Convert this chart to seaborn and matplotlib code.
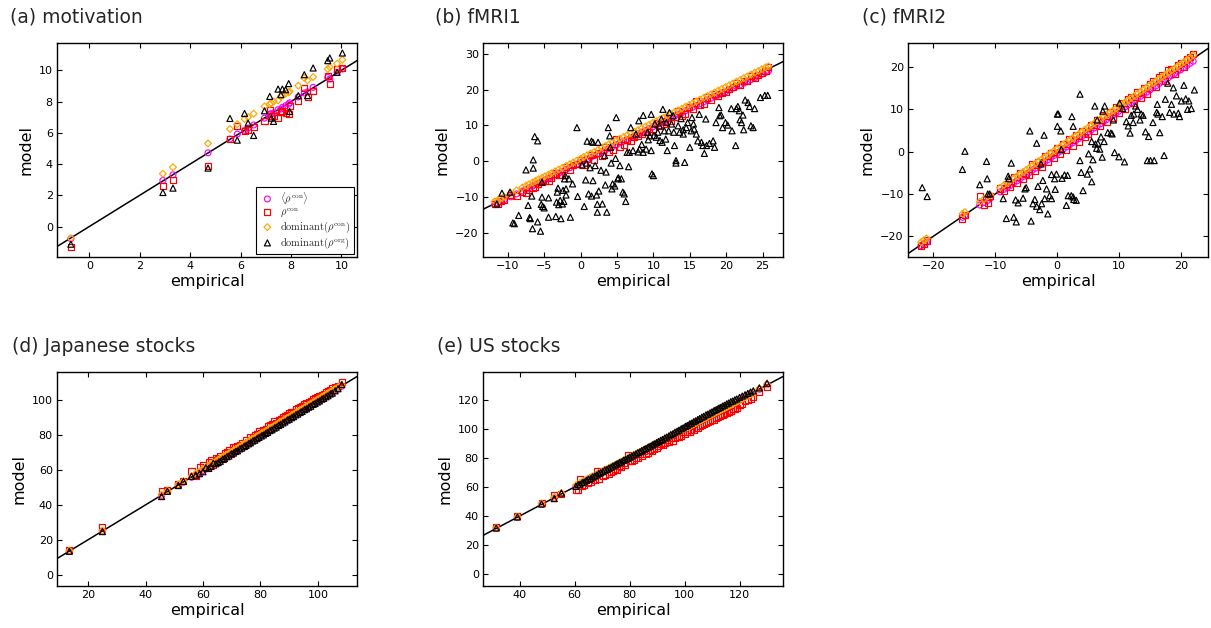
import matplotlib
matplotlib.use("Agg")
import matplotlib.pyplot as plt
import seaborn as sns

# ---------------- data ----------------
# (a) motivation
a_x = [-0.73, 2.92, 3.32, 4.71, 5.58, 5.87, 6.16, 6.30, 6.52, 6.95, 7.16, 7.22, 7.31, 7.49,
       7.60, 7.66, 7.79, 7.91, 7.95, 8.29, 8.53, 8.66, 8.88, 9.46, 9.54, 9.83, 10.04]
a_mean = [-0.78, 2.95, 3.31, 4.72, 5.60, 5.92, 6.15, 6.30, 6.50, 6.94, 7.20, 7.22, 7.26, 7.48,
          7.52, 7.63, 7.74, 7.84, 7.92, 8.30, 8.55, 8.62, 8.91, 9.55, 9.44, 9.87, 10.09]
a_con = [-1.32, 2.59, 2.99, 3.85, 5.62, 6.41, 6.11, 6.20, 6.35, 6.73, 7.48, 7.10, 7.09, 6.94,
         7.33, 7.40, 7.26, 7.22, 7.69, 8.02, 8.87, 8.29, 8.70, 9.66, 9.15, 10.09, 10.15]
a_domcon = [-0.75, 3.38, 3.80, 5.32, 6.24, 6.56, 6.88, 7.01, 7.22, 7.69, 7.84, 7.90, 8.01, 8.08,
            8.33, 8.40, 8.50, 8.59, 8.65, 9.02, 9.51, 9.36, 9.57, 10.09, 10.21, 10.43, 10.68]
a_domorg = [-1.13, 2.18, 2.46, 3.74, 6.92, 5.53, 7.24, 6.62, 5.83, 7.41, 8.33, 6.94, 6.73, 8.80,
            8.44, 8.80, 8.76, 9.15, 7.37, 8.38, 9.72, 8.38, 10.15, 10.62, 10.79, 9.87, 11.11]

# (b) fMRI1
b_x = [-11.8, -11.4, -11.0, -10.5, -9.6, -8.8, -8.0, -7.5,
       -7.1, -6.6, -6.2, -5.8, -5.3, -4.9, -4.4, -4.0,
       -3.5, -3.0, -2.5, -2.0, -1.5, -1.0, -0.5, 0.0,
       0.4, 0.9, 1.4, 1.9, 2.4, 2.9, 3.4, 3.9,
       4.4, 4.9, 5.4, 5.9, 6.4, 6.9, 7.4, 7.9,
       8.4, 8.9, 9.4, 9.9, 10.4, 10.9, 11.4, 11.9,
       12.4, 12.9, 13.4, 13.9, 14.4, 14.9, 15.4, 15.9,
       16.4, 16.9, 17.4, 17.9, 18.4, 18.9, 19.4, 19.9,
       20.4, 20.9, 21.4, 21.9, 22.4, 22.9, 23.4, 23.9,
       24.4, 24.9, 25.4, 25.8]
b_mean = [-12.1, -11.7, -11.3, -10.8, -9.9, -9.1, -8.3, -7.8,
          -7.4, -6.9, -6.5, -6.1, -5.6, -5.2, -4.7, -4.3,
          -3.8, -3.3, -2.8, -2.3, -1.8, -1.3, -0.8, -0.3,
          0.1, 0.6, 1.1, 1.6, 2.1, 2.6, 3.1, 3.6,
          4.1, 4.6, 5.1, 5.6, 6.1, 6.6, 7.1, 7.6,
          8.1, 8.6, 9.1, 9.6, 10.1, 10.6, 11.1, 11.6,
          12.1, 12.6, 13.1, 13.6, 14.1, 14.6, 15.1, 15.6,
          16.1, 16.6, 17.1, 17.6, 18.1, 18.5, 19.0, 19.4,
          19.9, 20.4, 20.9, 21.3, 21.8, 22.3, 22.8, 23.3,
          23.8, 24.3, 24.8, 25.2]
b_con = [-12.0, -11.9, -11.2, -10.9, -9.3, -9.6, -8.6, -8.8,
         -7.9, -7.5, -7.2, -6.3, -5.9, -5.6, -5.4, -4.6,
         -3.4, -3.9, -3.7, -1.5, -2.4, -1.0, -0.8, 0.4,
         -0.9, 0.6, 1.8, 0.4, 2.2, 1.4, 3.9, 2.6,
         3.1, 6.2, 4.0, 4.5, 6.0, 5.7, 6.9, 7.0,
         7.6, 8.1, 8.1, 9.0, 10.6, 9.9, 10.5, 11.2,
         11.2, 12.4, 13.9, 12.6, 13.2, 15.1, 14.5, 16.8,
         15.6, 16.1, 17.8, 17.0, 18.7, 18.3, 19.1, 19.4,
         20.1, 20.6, 21.9, 21.4, 22.3, 22.4, 23.9, 23.2,
         24.2, 24.7, 25.1, 26.2]
b_domcon = [-11.2, -10.9, -10.4, -9.9, -8.9, -8.1, -7.3, -6.8,
            -6.4, -5.9, -5.5, -5.0, -4.6, -4.2, -3.7, -3.3,
            -2.8, -2.3, -1.8, -1.3, -0.8, -0.3, 0.2, 0.7,
            1.2, 1.7, 2.2, 2.7, 3.2, 3.8, 4.3, 4.8,
            5.3, 5.8, 6.3, 6.8, 7.3, 7.8, 8.3, 8.7,
            9.2, 9.7, 10.2, 10.7, 11.2, 11.7, 12.2, 12.7,
            13.2, 13.7, 14.2, 14.7, 15.2, 15.7, 16.2, 16.7,
            17.2, 17.7, 18.2, 18.7, 19.2, 19.7, 20.2, 20.7,
            21.2, 21.7, 22.2, 22.7, 23.2, 23.7, 24.2, 24.7,
            25.2, 25.7, 26.2, 26.5]
b_org_x = [-11.5, -10.8, -9.7, -9.3, -9.1, -8.5, -7.5, -7.2, -7.0, -6.9,
           -6.7, -6.6, -6.5, -6.5, -6.3, -5.9, -5.9, -5.5, -5.4, -5.3,
           -5.2, -5.0, -5.3, -4.4, -4.4, -3.4, -3.3, -3.2, -3.1, -3.0,
           -2.8, -2.7, -2.5, -2.4, -2.3, -2.2, -2.1, -2.0, -2.0, -1.6,
           -1.4, -1.1, -0.4, -0.5, 0.5, 0.7, 0.9, 1.1, 1.5, 1.5,
           1.7, 1.7, 2.2, 2.3, 2.4, 2.3, 2.5, 3.0, 3.3, 3.4,
           3.6, 3.8, 4.0, 4.1, 4.3, 4.4, 4.7, 4.9, 5.1, 5.4,
           5.6, 5.8, 6.0, 6.2, 6.4, 6.6, 6.7, 6.9, 7.6, 8.0,
           8.1, 8.6, 8.6, 9.0, 9.2, 9.5, 9.7, 9.7, 9.8, 10.0,
           10.2, 10.4, 10.6, 10.8, 11.1, 11.2, 11.3, 11.5, 11.7, 11.8,
           11.9, 12.1, 12.2, 12.5, 12.7, 12.8, 12.9, 13.1, 13.1, 13.4,
           13.6, 13.8, 14.1, 14.1, 14.3, 14.5, 14.7, 15.0, 15.2, 15.3,
           15.5, 15.6, 15.9, 16.1, 16.3, 16.6, 16.8, 17.0, 17.2, 17.3,
           17.7, 18.2, 18.4, 18.6, 19.0, 19.1, 19.3, 19.5, 19.9, 20.2,
           20.7, 20.8, 21.3, 21.4, 21.6, 21.8, 21.9, 22.1, 22.3, 22.4,
           22.6, 23.0, 23.2, 23.4, 23.7, 23.9, 24.7, 25.3, 25.7,
           0.2, 0.8, 1.3, 2.0, 2.8, 3.5, 4.2, 4.8, 5.2, 7.2,
           7.9, 8.4, 9.3, 10.1, 10.9]
b_org_y = [-11.9, -8.9, -8.6, -17.2, -17.4, -15.1, -2.4, -12.3, -15.7, -16.0,
           -9.7, -18.8, -1.9, 0.4, 6.9, 5.7, -16.9, -19.5, -12.0, -10.0,
           -12.6, -13.0, -5.8, -10.2, -15.6, -15.4, -11.4, -8.6, -7.5, -12.1,
           -10.9, -16.0, -11.9, -8.1, -11.2, -4.9, -4.0, -9.4, -7.7, -4.9,
           -15.6, -6.3, -9.8, 9.4, -12.6, -5.2, 5.6, -9.1, 5.6, -9.7,
           5.3, -5.4, -9.4, -12.0, 5.3, -14.2, -8.3, -11.9, 1.6, -6.6,
           -14.2, 9.4, 7.1, 3.9, -7.7, -6.3, -6.9, 12.2, -4.9, -1.2,
           -4.9, -8.6, -9.1, -11.2, 2.5, -1.5, 2.5, 9.4, 7.6, 11.3,
           3.4, 12.8, 2.5, 3.4, 8.1, 7.1, 13.1, 3.0, -3.5, -4.0,
           10.4, 6.7, 8.1, 9.9, 11.8, 5.3, 14.5, 8.5, 6.2, 10.8,
           3.0, 8.5, 13.6, 10.4, 12.7, 8.1, 4.4, -0.5, 0.2, 9.9,
           8.1, 11.9, 7.6, 8.8, -0.3, 9.4, 10.8, 3.9, 8.5, 12.2,
           10.4, 9.0, 7.6, 5.7, 13.1, 5.3, 4.4, 2.2, 11.8, 4.4,
           5.0, 5.7, 3.9, 10.8, 15.0, 12.7, 12.9, 9.4, 10.8, 10.1,
           14.7, 8.5, 4.4, 14.7, 15.3, 14.1, 11.6, 10.8, 12.9, 8.8,
           17.1, 16.4, 15.3, 9.9, 9.4, 14.7, 17.8, 18.4, 18.4,
           -1.0, -0.5, -1.8, -1.2, -2.5, -3.0, -0.5, 0.8, -4.6, 3.0,
           2.6, 4.7, 6.0, 7.2, 5.8]

# (c) fMRI2
c_x = [-22.0, -21.5, -21.1, -15.3, -14.9, -12.5, -11.8, -11.2,
       -10.8, -9.2, -8.6, -8.1, -7.6, -7.0, -6.5, -6.0,
       -5.5, -5.0, -4.5, -4.0, -3.5, -3.0, -2.5, -2.0,
       -1.5, -1.0, -0.5, 0.0, 0.5, 1.0, 1.5, 2.0,
       2.5, 3.0, 3.5, 4.0, 4.5, 5.0, 5.5, 6.0,
       6.5, 7.0, 7.5, 8.0, 8.5, 9.0, 9.5, 10.0,
       10.5, 11.0, 11.5, 12.0, 12.5, 13.0, 13.5, 14.0,
       14.5, 15.0, 15.5, 16.0, 16.5, 17.0, 17.5, 18.0,
       18.5, 19.0, 19.5, 20.0, 20.5, 21.0, 21.5, 22.0]
c_mean = [-22.2, -21.7, -21.4, -15.5, -15.1, -12.6, -12.0, -11.5,
          -11.0, -9.5, -8.9, -8.5, -8.0, -7.4, -6.9, -6.4,
          -5.9, -5.4, -4.9, -4.4, -3.9, -3.4, -2.9, -2.4,
          -1.9, -1.4, -0.9, -0.4, 0.1, 0.6, 1.1, 1.6,
          2.1, 2.6, 3.1, 3.6, 4.1, 4.6, 5.1, 5.6,
          6.1, 6.6, 7.1, 7.6, 8.1, 8.6, 9.1, 9.6,
          10.1, 10.6, 11.1, 11.6, 12.1, 12.6, 13.1, 13.6,
          14.1, 14.6, 15.1, 15.6, 16.1, 16.6, 17.1, 17.5,
          18.0, 18.5, 19.0, 19.4, 19.9, 20.4, 20.9, 21.4]
c_con = [-22.4, -21.8, -21.0, -15.8, -15.0, -10.6, -12.5, -12.2,
         -10.5, -8.7, -9.3, -7.6, -8.4, -6.0, -7.5, -5.1,
         -6.4, -5.2, -5.4, -3.0, -4.5, -2.4, -3.6, -1.0,
         -2.5, -0.4, -1.6, 0.8, -0.6, 1.8, 0.4, 2.9,
         1.4, 3.9, 2.4, 5.0, 3.4, 4.1, 6.4, 4.9,
         7.5, 6.1, 8.6, 7.0, 9.4, 8.0, 10.5, 9.2,
         11.5, 10.0, 12.4, 13.0, 11.6, 14.0, 12.6, 15.1,
         13.7, 16.0, 16.7, 15.2, 17.6, 18.2, 16.8, 19.3,
         19.6, 18.4, 20.6, 21.0, 20.0, 21.9, 22.4, 23.1]
c_domcon = [-21.4, -20.9, -20.5, -14.7, -14.3, -11.9, -11.2, -10.6,
            -10.2, -8.5, -7.9, -7.4, -6.9, -6.3, -5.8, -5.3,
            -4.8, -4.3, -3.8, -3.3, -2.8, -2.3, -1.8, -1.3,
            -0.8, -0.3, 0.2, 0.7, 1.2, 1.7, 2.2, 2.7,
            3.2, 3.7, 4.2, 4.7, 5.2, 5.7, 6.2, 6.7,
            7.2, 7.7, 8.2, 8.7, 9.2, 9.7, 10.2, 10.7,
            11.2, 11.7, 12.2, 12.7, 13.2, 13.7, 14.2, 14.7,
            15.2, 15.7, 16.2, 16.7, 17.2, 17.7, 18.2, 18.7,
            19.2, 19.7, 20.2, 20.7, 21.2, 21.7, 22.2, 22.8]
c_org_x = [-21.8, -21.0, -14.9, -15.3, -12.5, -11.4, -11.3, -11.2, -10.9, -8.7,
           -8.2, -7.9, -7.8, -7.4, -7.0, -6.7, -6.6, -6.3, -5.5, -5.2,
           -5.0, -4.4, -4.2, -3.9, -3.6, -3.3, -3.3, -3.1, -2.8, -2.6,
           -2.5, -2.3, -2.1, -2.0, -1.7, -1.5, -1.2, -0.9, -0.9, -0.4,
           -0.3, -0.1, 0.05, 0.05, 0.2, 0.6, 0.7, 0.8, 1.2, 1.7,
           1.8, 1.5, 2.3, 2.6, 2.4, 2.6, 2.7, 3.1, 3.7, 3.7,
           3.9, 4.2, 4.9, 5.1, 5.3, 5.6, 5.6, 5.8, 6.1, 6.2,
           6.4, 6.5, 6.6, 6.9, 7.1, 7.3, 7.4, 7.6, 7.7, 8.2,
           8.7, 8.9, 9.1, 9.3, 10.0, 10.1, 10.6, 10.9, 11.2, 11.5,
           11.8, 12.0, 12.3, 12.4, 12.7, 13.0, 13.4, 13.6, 13.9, 14.3,
           14.6, 14.8, 15.1, 15.5, 15.7, 16.1, 16.2, 16.3, 16.6, 17.0,
           17.3, 17.5, 17.9, 18.2, 18.5, 18.8, 18.9, 19.3, 19.6, 19.8,
           20.1, 20.5, 20.8, 21.1, 21.3, 21.7, 22.2]
c_org_y = [-8.5, -10.6, 0.1, -4.2, -7.8, -2.3, -6.4, -10.0, -10.0, -11.1,
           -15.8, -5.8, -6.4, -2.7, -15.5, -11.4, -16.6, -12.1, -11.0, -8.8,
           -8.5, 4.9, -16.4, -12.3, -11.3, 2.0, -12.9, -8.2, -13.7, -2.9,
           -12.3, -6.8, 3.9, -11.1, -8.8, -14.7, -10.4, -5.4, -11.1, -6.4,
           -8.9, -5.3, 8.9, 6.0, 8.9, 4.9, 0.5, -6.3, -5.5, -5.6,
           -10.4, -12.7, -10.4, -10.7, 8.3, 6.0, -11.3, -11.5, 13.6, -2.1,
           -4.9, -9.2, -5.3, -0.5, -4.1, 2.4, -7.1, -1.9, 10.8, 1.8,
           0.8, 7.5, 2.0, 0.6, 3.5, -1.3, 9.6, 2.4, 10.8, 4.5,
           4.4, 4.2, 7.5, -0.2, -1.2, 11.5, 10.2, -2.4, 7.1, 6.1,
           4.4, 8.6, 6.9, 8.9, 10.8, 10.0, 7.5, 8.9, 8.6, 4.7,
           -2.1, 3.6, -2.1, 6.9, -2.1, 9.3, 11.2, 8.9, 4.5, 8.3,
           -0.9, 12.4, 16.2, 9.3, 11.2, 15.1, 8.9, 13.2, 9.1, 8.3,
           12.0, 15.7, 12.5, 10.0, 12.0, 10.2, 14.6]

# (d) Japanese stocks
d_x = [13.5, 25.0, 45.6, 47.6, 51.4, 53.2, 56.0, 57.5,
       58.8, 60.0, 61.0, 62.0, 62.8, 63.6, 64.5, 65.3,
       66.0, 66.8, 67.5, 68.3, 69.0, 69.8, 70.6, 71.3,
       72.0, 72.8, 73.5, 74.3, 75.0, 75.8, 76.5, 77.3,
       78.0, 78.8, 79.5, 80.3, 81.0, 81.8, 82.5, 83.3,
       84.0, 84.8, 85.5, 86.3, 87.0, 87.8, 88.5, 89.3,
       90.0, 90.8, 91.5, 92.3, 93.0, 93.8, 94.5, 95.3,
       96.0, 96.8, 97.5, 98.3, 99.0, 99.8, 100.5, 101.3,
       102.0, 102.8, 103.5, 104.3, 105.0, 106.0, 107.0, 108.3]
d_mean = [13.4, 24.9, 45.4, 47.7, 51.2, 53.0, 55.8, 57.2,
          58.5, 59.7, 60.6, 61.6, 62.5, 63.2, 64.1, 64.9,
          65.6, 66.4, 67.1, 67.9, 68.6, 69.4, 70.2, 70.9,
          71.6, 72.4, 73.1, 73.9, 74.6, 75.4, 76.1, 76.9,
          77.6, 78.4, 79.1, 79.9, 80.6, 81.4, 82.1, 82.9,
          83.6, 84.4, 85.1, 85.9, 86.6, 87.4, 88.1, 88.9,
          89.6, 90.4, 91.1, 91.9, 92.6, 93.4, 94.1, 94.9,
          95.6, 96.4, 97.1, 97.9, 98.6, 99.4, 100.1, 100.9,
          101.6, 102.4, 103.1, 103.9, 104.6, 105.6, 106.6, 108.0]
d_con = [13.9, 27.2, 47.8, 48.8, 51.8, 53.6, 59.4, 56.4,
         61.8, 62.6, 61.2, 64.8, 65.7, 63.1, 67.0, 66.2,
         68.2, 66.1, 69.8, 70.6, 71.6, 69.3, 72.9, 73.1,
         73.9, 74.2, 75.3, 73.9, 77.1, 76.3, 78.8, 79.0,
         80.1, 80.5, 82.3, 81.2, 83.0, 83.4, 85.0, 85.6,
         86.1, 88.0, 87.2, 88.4, 89.2, 90.3, 91.1, 91.6,
         92.4, 93.5, 93.0, 94.8, 95.6, 96.2, 96.6, 97.9,
         98.4, 98.9, 99.6, 100.8, 101.2, 101.6, 102.7, 103.1,
         103.6, 104.8, 105.2, 105.7, 106.8, 107.4, 108.3, 110.5]
d_domcon = [13.8, 25.3, 46.0, 48.0, 51.8, 53.6, 56.5, 58.0,
            59.3, 60.6, 61.6, 62.5, 63.4, 64.2, 65.0, 65.9,
            66.6, 67.4, 68.0, 68.9, 69.6, 70.3, 71.1, 71.9,
            72.5, 73.4, 74.0, 74.9, 75.5, 76.4, 77.0, 77.9,
            78.5, 79.4, 80.0, 80.9, 81.5, 82.4, 83.0, 83.9,
            84.5, 85.4, 86.0, 86.9, 87.5, 88.4, 89.0, 89.9,
            90.5, 91.4, 92.0, 92.9, 93.5, 94.4, 95.0, 95.9,
            96.5, 97.4, 98.0, 98.9, 99.5, 100.4, 101.0, 101.9,
            102.5, 103.4, 104.0, 104.9, 105.5, 106.6, 107.5, 108.8]
d_domorg = [13.4, 24.7, 44.8, 47.8, 51.1, 53.5, 56.4, 57.0,
            57.9, 59.0, 61.3, 60.9, 62.0, 63.9, 63.6, 64.3,
            65.0, 66.1, 66.6, 67.6, 68.0, 69.2, 69.7, 70.6,
            71.0, 72.1, 72.6, 73.5, 74.1, 75.0, 75.6, 76.6,
            77.1, 78.0, 78.7, 79.5, 80.1, 81.0, 81.6, 82.6,
            83.1, 84.0, 84.6, 85.6, 86.1, 87.0, 87.6, 88.6,
            89.1, 90.0, 90.6, 91.6, 92.1, 93.0, 93.6, 94.6,
            95.1, 96.0, 96.6, 97.6, 98.1, 99.0, 99.6, 100.6,
            101.1, 102.0, 102.6, 103.6, 104.1, 105.4, 106.6, 109.0]

# (e) US stocks
e_x = [31.5, 39.2, 48.0, 52.6, 55.2, 60.5, 61.3, 62.0,
       62.8, 63.5, 64.3, 65.0, 65.8, 66.5, 67.3, 68.0,
       68.8, 69.5, 70.3, 71.0, 71.8, 72.5, 73.3, 74.0,
       74.8, 75.5, 76.3, 77.0, 77.8, 78.5, 79.3, 80.0,
       80.8, 81.5, 82.3, 83.0, 83.8, 84.5, 85.3, 86.0,
       86.8, 87.5, 88.3, 89.0, 89.8, 90.5, 91.3, 92.0,
       92.8, 93.5, 94.3, 95.0, 95.8, 96.5, 97.3, 98.0,
       98.8, 99.5, 100.3, 101.0, 101.8, 102.5, 103.3, 104.0,
       104.8, 105.5, 106.3, 107.0, 107.8, 108.5, 109.3, 110.0,
       110.8, 111.5, 112.3, 113.0, 113.8, 114.5, 115.3, 116.0,
       116.8, 117.5, 118.3, 119.0, 120.0, 121.0, 122.0, 123.0,
       124.0, 125.0, 127.2, 130.0]
e_mean = [31.6, 39.0, 47.9, 52.4, 55.0, 60.2, 61.0, 61.7,
          62.5, 63.2, 64.0, 64.7, 65.5, 66.2, 67.0, 67.7,
          68.5, 69.2, 70.0, 70.7, 71.5, 72.2, 73.0, 73.7,
          74.5, 75.2, 76.0, 76.7, 77.5, 78.2, 79.0, 79.7,
          80.5, 81.2, 82.0, 82.7, 83.5, 84.2, 85.0, 85.7,
          86.5, 87.2, 88.0, 88.7, 89.5, 90.2, 91.0, 91.7,
          92.5, 93.2, 94.0, 94.7, 95.5, 96.2, 97.0, 97.7,
          98.5, 99.2, 100.0, 100.7, 101.5, 102.2, 103.0, 103.7,
          104.5, 105.2, 106.0, 106.7, 107.5, 108.2, 109.0, 109.7,
          110.5, 111.2, 112.0, 112.7, 113.5, 114.2, 115.0, 115.7,
          116.5, 117.2, 118.0, 118.7, 119.7, 120.7, 121.7, 122.7,
          123.7, 124.7, 127.0, 130.3]
e_con = [32.2, 39.8, 49.2, 54.6, 55.0, 57.6, 58.2, 65.4,
         60.5, 61.6, 64.8, 62.4, 63.6, 66.8, 64.9, 70.8,
         65.8, 71.2, 67.6, 68.3, 72.6, 69.1, 70.4, 71.2,
         72.6, 71.8, 74.3, 74.0, 76.4, 75.2, 82.0, 78.1,
         77.8, 78.4, 79.6, 80.1, 82.6, 81.2, 85.0, 82.8,
         83.5, 85.7, 84.9, 86.3, 86.8, 88.1, 89.2, 88.6,
         89.9, 92.0, 90.7, 93.3, 91.8, 93.8, 94.6, 94.4,
         95.3, 97.5, 96.2, 97.4, 98.0, 99.1, 99.4, 100.3,
         100.8, 102.0, 102.4, 103.0, 103.6, 104.7, 105.2, 105.8,
         106.3, 107.6, 108.0, 108.7, 109.6, 110.3, 110.6, 111.4,
         112.1, 113.5, 113.8, 114.3, 116.2, 116.8, 118.8, 119.6,
         120.6, 121.8, 125.0, 128.5]
e_domcon = [32.0, 39.6, 48.5, 53.0, 55.8, 61.2, 62.0, 62.8,
            63.4, 64.2, 65.0, 65.6, 66.4, 67.2, 67.8, 68.6,
            69.4, 70.0, 70.8, 71.6, 72.2, 73.0, 73.8, 74.4,
            75.2, 76.0, 76.6, 77.4, 78.2, 78.8, 79.6, 80.4,
            81.0, 81.8, 82.6, 83.2, 84.0, 84.8, 85.4, 86.2,
            87.0, 87.6, 88.4, 89.2, 89.8, 90.6, 91.4, 92.0,
            92.8, 93.6, 94.2, 95.0, 95.8, 96.4, 97.2, 98.0,
            98.6, 99.4, 100.2, 100.8, 101.6, 102.4, 103.0, 103.8,
            104.6, 105.2, 106.0, 106.8, 107.4, 108.2, 109.0, 109.6,
            110.4, 111.2, 111.8, 112.6, 113.4, 114.0, 114.8, 115.6,
            116.2, 117.0, 117.8, 118.4, 119.4, 120.4, 121.4, 122.4,
            123.4, 124.4, 127.6, 130.4]
e_domorg = [31.8, 39.4, 48.3, 52.0, 55.8, 60.4, 61.6, 61.8,
            63.0, 63.4, 64.6, 65.4, 65.6, 66.9, 67.5, 68.2,
            69.2, 69.8, 70.6, 71.6, 72.0, 72.9, 73.6, 74.4,
            75.2, 75.9, 76.8, 77.2, 78.3, 78.9, 79.6, 80.5,
            81.2, 82.0, 82.7, 83.6, 84.2, 85.0, 85.9, 86.5,
            87.4, 88.0, 88.9, 89.6, 90.4, 91.2, 92.0, 92.6,
            93.6, 94.2, 95.1, 96.0, 96.6, 97.6, 98.3, 99.0,
            100.0, 100.6, 101.6, 102.2, 103.2, 103.8, 104.8, 105.4,
            106.3, 107.0, 107.9, 108.5, 109.5, 110.0, 110.9, 111.6,
            112.5, 113.1, 114.0, 114.6, 115.5, 116.1, 117.0, 117.6,
            118.5, 119.0, 119.8, 120.4, 121.5, 122.4, 123.3, 124.2,
            125.2, 126.0, 128.0, 131.2]

titles = ["(a) motivation", "(b) fMRI1", "(c) fMRI2", "(d) Japanese stocks", "(e) US stocks"]
labels = [r"$\langle\rho^{\rm con}\rangle$", r"$\rho^{\rm con}$",
          r"$\mathrm{dominant}(\rho^{\rm con})$", r"$\mathrm{dominant}(\rho^{\rm org})$"]

# ---------------- style ----------------
sns.set_style("ticks")
plt.rcParams.update({
    "font.family": ["DejaVu Sans"],
    "mathtext.fontset": "cm",
    "axes.edgecolor": "black",
    "axes.labelcolor": "black",
    "axes.linewidth": 1.0,
    "axes.labelsize": 11.5,
    "xtick.color": "black", "ytick.color": "black",
    "xtick.direction": "in", "ytick.direction": "in",
    "xtick.top": True, "ytick.right": True,
    "xtick.major.size": 3.5, "ytick.major.size": 3.5,
    "xtick.major.width": 0.8, "ytick.major.width": 0.8,
    "xtick.major.pad": 3, "ytick.major.pad": 3,
    "xtick.labelsize": 8, "ytick.labelsize": 8,
})

fig = plt.figure(figsize=(12.11, 6.28), dpi=100)
W, H = 1211, 628


def make_ax(left, top, w=300, h=214):
    return fig.add_axes([left / W, 1 - (top + h) / H, w / W, h / H])


def draw(ax, x, mean, con, domcon, org_x, org_y):
    kw = dict(ax=ax, facecolor="none", linewidth=0.85, zorder=3)
    sns.scatterplot(x=x, y=mean, marker="o", s=18, edgecolor="#ff00ff", label=labels[0], **kw)
    sns.scatterplot(x=x, y=con, marker="s", s=19, edgecolor="red", label=labels[1], **kw)
    sns.scatterplot(x=x, y=domcon, marker="D", s=12, edgecolor="#ffa500", label=labels[2], **kw)
    sns.scatterplot(x=org_x, y=org_y, marker="^", s=19, edgecolor="black", label=labels[3], **kw)
    ax.axline((0, 0), slope=1, color="black", linewidth=1.1, zorder=2)
    ax.set_xlabel("empirical", labelpad=2)
    ax.set_ylabel("model", labelpad=4)


panels = [
    dict(pos=(57, 43), data=(a_x, a_mean, a_con, a_domcon, a_x, a_domorg),
         xlim=(-1.28, 10.62), ylim=(-1.95, 11.75), xt=range(0, 11, 2), yt=range(0, 11, 2)),
    dict(pos=(483, 43), data=(b_x, b_mean, b_con, b_domcon, b_org_x, b_org_y),
         xlim=(-13.4, 27.8), ylim=(-26.7, 33.0), xt=range(-10, 26, 5), yt=range(-20, 31, 10)),
    dict(pos=(908, 43), data=(c_x, c_mean, c_con, c_domcon, c_org_x, c_org_y),
         xlim=(-24.1, 24.4), ylim=(-24.9, 25.7), xt=range(-20, 21, 10), yt=range(-20, 21, 10)),
    dict(pos=(57, 372), data=(d_x, d_mean, d_con, d_domcon, d_x, d_domorg),
         xlim=(9.2, 113.6), ylim=(-6.5, 116.2), xt=range(20, 101, 20), yt=range(0, 101, 20)),
    dict(pos=(483, 372), data=(e_x, e_mean, e_con, e_domcon, e_x, e_domorg),
         xlim=(26.7, 135.8), ylim=(-8.0, 138.9), xt=range(40, 121, 20), yt=range(0, 121, 20)),
]
title_pos = [(10, 17), (435, 17), (862, 17), (12, 346), (437, 346)]

for i, p in enumerate(panels):
    ax = make_ax(*p["pos"])
    draw(ax, *p["data"])
    ax.set_xlim(*p["xlim"])
    ax.set_ylim(*p["ylim"])
    ax.set_xticks(list(p["xt"]))
    ax.set_yticks(list(p["yt"]))
    if i == 0:
        leg = ax.legend(loc="lower right", fontsize=7.5, scatterpoints=1, fancybox=False,
                        framealpha=1, edgecolor="black", borderpad=0.3, labelspacing=0.05,
                        handletextpad=0.5, borderaxespad=0.3, handlelength=1.5)
        leg.get_frame().set_linewidth(0.8)
    else:
        ax.get_legend().remove()
    tx, ty = title_pos[i]
    fig.text(tx / W, 1 - ty / H, titles[i], fontsize=13.5, ha="left", va="center")

fig.savefig("out.png", dpi=100)
